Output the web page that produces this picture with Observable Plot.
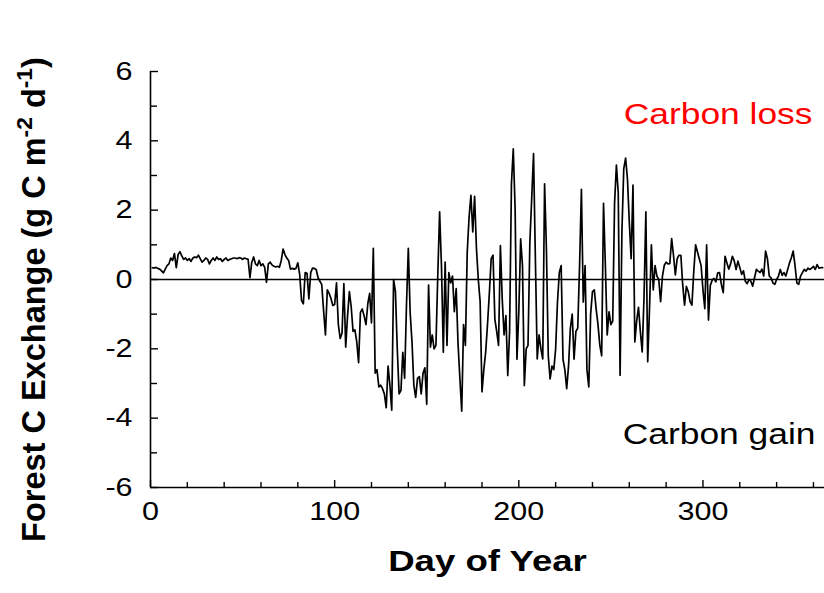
<!DOCTYPE html>
<html><head><meta charset="utf-8">
<script src="https://cdn.jsdelivr.net/npm/d3@7"></script>
<script src="https://cdn.jsdelivr.net/npm/@observablehq/plot@0.6"></script>
<style>
html,body{margin:0;padding:0;background:#fff;}
#chart svg{display:block;}
</style></head><body><div id="chart"></div>
<script>
// Daily forest C exchange (g C m-2 d-1), days 1..365
const fluxQ1 = [0.34,0.33,0.35,0.32,0.30,0.25,0.19,0.30,0.40,0.45,
0.62,0.55,0.75,0.34,0.72,0.80,0.68,0.58,0.62,0.55,
0.60,0.52,0.62,0.65,0.63,0.70,0.60,0.50,0.55,0.62,
0.58,0.45,0.55,0.62,0.55,0.65,0.58,0.60,0.52,0.58,
0.62,0.55,0.58,0.60,0.62,0.62,0.60,0.63,0.62,0.58,
0.62,0.60,0.58,0.05,0.50,0.65,0.45,0.40,0.55,0.40,
0.45,0.35,-0.08,0.45,0.50,0.42,0.38,0.36,0.38,0.35,
0.55,0.88,0.72,0.62,0.55,0.30,0.32,0.30,0.32,0.48,
0.15,-0.60,-0.70,0.20,0.18,-0.56,0.20,0.33,0.32,0.28];
const fluxQ2 = [0.05,-0.05,-0.15,-0.90,-1.60,-0.30,-0.40,-0.55,-0.75,-0.72,
-0.10,-1.30,-1.70,-1.55,-0.12,-1.95,-1.05,-0.35,-0.80,-1.50,
-1.45,-1.80,-2.40,-0.95,-0.85,-1.05,-1.30,-0.70,-0.40,-1.25,
0.90,-2.70,-2.60,-3.10,-3.05,-3.15,-3.30,-3.70,-2.50,-3.05,
-3.77,0.00,-0.35,-2.00,-3.30,-3.20,-2.10,-2.85,-0.75,0.90,
-0.95,-1.80,-3.05,-3.40,-2.85,-2.80,-3.30,-2.70,-2.55,-3.60,
-0.16,-1.95,-1.60,-2.00,-1.90,0.12,1.95,0.40,-2.10,0.50,
-1.90,0.20,-0.10,0.10,-0.93,-0.26,-1.85,-2.85,-3.80,-1.30,
-1.90,0.80,1.80,2.43,1.37,2.40,0.90,0.00,-0.64,-3.24,-2.60];
const fluxQ3 = [-2.10,-1.30,-0.40,0.60,0.70,-1.15,-1.50,-1.90,0.98,-0.56,
-1.60,-1.04,-2.77,-1.50,2.76,3.77,2.04,-2.30,-0.94,1.17,
0.40,-3.06,-2.00,-1.90,1.08,2.33,3.63,0.60,-2.29,-1.60,
-2.00,-2.29,2.76,0.88,-2.20,-2.87,-2.50,-2.60,-2.00,-0.65,
0.20,0.40,-2.30,-2.60,-3.15,-2.50,-1.40,-1.00,-2.30,-1.50,
-1.40,0.40,2.60,-0.65,0.40,-2.60,-3.10,-1.00,-0.35,-0.30,
-0.85,-1.30,-1.90,-2.20,2.20,0.41,-1.60,-0.93,-1.30,-1.20,
2.20,3.30,2.50,-2.76,1.40,3.20,3.50,2.90,1.66,0.60,
2.72,-1.80,-1.20,-0.80,-1.50,-2.09,-0.50,1.95,-2.37,-0.80,
1.00,-0.30];
const fluxQ4 = [0.40,0.10,0.00,-0.64,0.10,0.41,0.50,0.45,0.46,1.18,
0.70,0.13,0.60,0.70,0.70,-0.15,-0.74,-0.20,-0.35,-0.64,
-0.74,0.22,1.00,0.80,0.60,0.40,-0.30,-0.84,1.00,-1.17,
-0.17,-0.02,0.03,-0.07,0.19,0.20,-0.14,-0.38,0.67,0.48,
0.30,0.45,0.67,0.53,0.29,0.53,0.35,0.15,0.25,-0.05,
-0.12,0.00,-0.05,-0.19,0.05,0.29,0.24,0.20,0.30,0.10,
0.82,0.60,0.10,0.05,-0.10,-0.14,0.00,0.10,0.29,0.12,
0.20,0.10,0.29,0.48,0.63,0.82,0.40,-0.10,-0.14,0.10,
0.20,0.29,0.24,0.33,0.29,0.33,0.38,0.29,0.43,0.33,
0.34,0.34];

const xMajor = [0, 100, 200, 300];
const xMinor = [20, 40, 60, 80, 120, 140, 160, 180, 220, 240, 260, 280, 320, 340, 360];
const yMajor = [-6, -4, -2, 0, 2, 4, 6];
const yMinor = [-5, -3, -1, 1, 3, 5];
const xLabel = "Day of Year";
const yLabel = "Forest C Exchange (g C m-2 d-1)";
const lossLabel = "Carbon loss";
const gainLabel = "Carbon gain";

const flux = [...fluxQ1, ...fluxQ2, ...fluxQ3, ...fluxQ4];
const series = flux.map((v, i) => ({day: i + 1, value: v}));

const font = "'Liberation Sans', Arial, Helvetica, sans-serif";
const pxX = 366 / 674;   // days per pixel
const pxY = 12 / 416;    // units per pixel

const svg = Plot.plot({
  width: 824, height: 593,
  marginLeft: 150, marginRight: 0, marginTop: 71, marginBottom: 106,
  x: {domain: [0, 366], axis: null},
  y: {domain: [-6, 6], axis: null},
  style: {fontFamily: font, background: "white", overflow: "visible", color: "black"},
  marks: [
    Plot.ruleY([0], {stroke: "black", strokeWidth: 1.5}),
    Plot.line(series, {x: "day", y: "value", stroke: "black", strokeWidth: 1.7}),
    Plot.ruleX([0], {stroke: "black", strokeWidth: 1.6}),
    Plot.ruleY([-6], {stroke: "black", strokeWidth: 1.6}),
    Plot.ruleY(yMajor, {y: d => d, x1: 0, x2: 8 * pxX, stroke: "black", strokeWidth: 1.4}),
    Plot.ruleY(yMinor, {y: d => d, x1: 0, x2: 7 * pxX, stroke: "black", strokeWidth: 1.4}),
    Plot.ruleX(xMajor, {x: d => d, y1: -6, y2: -6 + 7 * pxY, stroke: "black", strokeWidth: 1.4}),
    Plot.ruleX(xMinor, {x: d => d, y1: -6, y2: -6 + 5 * pxY, stroke: "black", strokeWidth: 1.4}),
    Plot.text(yMajor, {x: 0, y: d => d, text: d => String(d), textAnchor: "end", dx: -18, fontSize: 25, fill: "black"}),
    Plot.text(xMajor, {x: d => d, y: -6, text: d => String(d), dy: 24, fontSize: 25, fill: "black"}),
    Plot.text([xLabel], {frameAnchor: "bottom", text: d => d, dy: 83, fontSize: 30, fontWeight: "bold", fill: "black"}),
    Plot.text([yLabel], {frameAnchor: "left", text: d => d, dx: -116, dy: 20, rotate: -90, fontSize: 32.5, fontWeight: "bold", fill: "black"}),
    Plot.text([lossLabel], {frameAnchor: "top-right", text: d => d, textAnchor: "end", dx: -12, dy: 32, fontSize: 29, fill: "#ff0000"}),
    Plot.text([gainLabel], {frameAnchor: "bottom-right", text: d => d, textAnchor: "end", dx: -9, dy: -44, fontSize: 29, fill: "black"})
  ]
});

document.getElementById("chart").appendChild(svg);

// superscripts in y label, and horizontal widening of other text to match the reference
d3.select(svg).selectAll("text").each(function() {
  const t = this.textContent;
  if (t === yLabel) {
    const el = d3.select(this);
    el.text(null);
    el.attr("text-anchor", "start");
    el.append("tspan").text("Forest C Exchange (g C m");
    el.append("tspan").style("baseline-shift", "super").style("font-size", "0.7em").text("-2");
    el.append("tspan").text(" d");
    el.append("tspan").style("baseline-shift", "super").style("font-size", "0.7em").text("-1");
    el.append("tspan").text(")");
    const len = this.getComputedTextLength();
    el.attr("x", (-len / 2).toFixed(1));
  } else {
    const len = this.getComputedTextLength();
    if (len > 0) {
      this.setAttribute("textLength", (len * 1.22).toFixed(1));
      this.setAttribute("lengthAdjust", "spacingAndGlyphs");
    }
  }
});
</script>
</body></html>
